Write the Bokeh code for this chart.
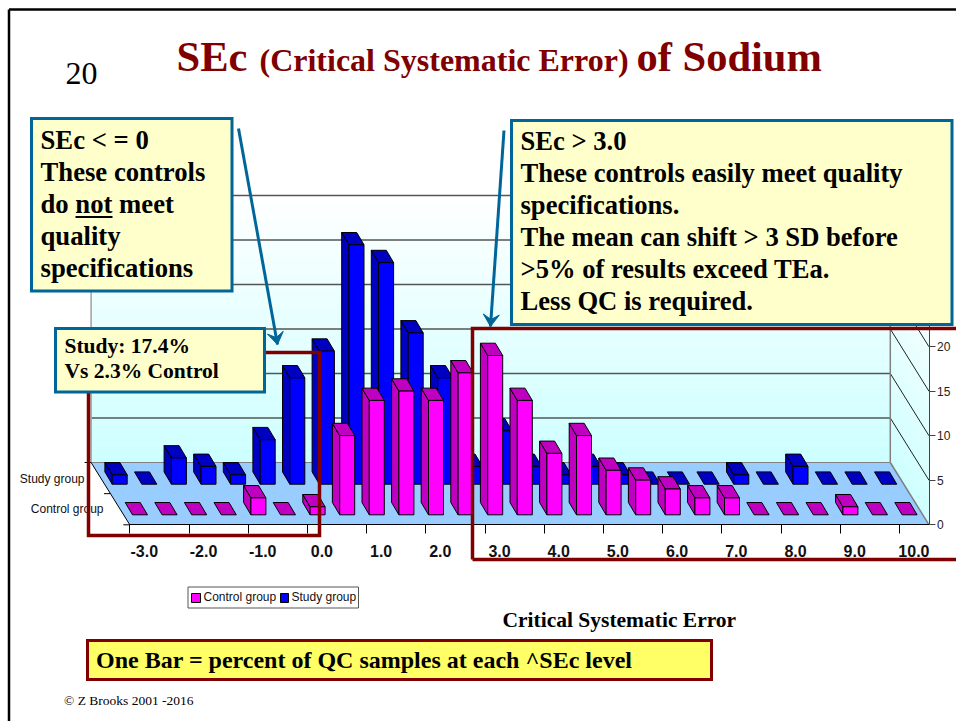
from bokeh.plotting import figure
from bokeh.embed import file_html
from bokeh.resources import INLINE
from bokeh.models import Range1d, LinearAxis, FixedTicker
from bokeh.core.properties import value
import math

sec_levels = [-3.0,-2.5,-2.0,-1.5,-1.0,-0.5,0.0,0.5,1.0,1.5,2.0,2.5,3.0,3.5,4.0,4.5,5.0,5.5,6.0,6.5,7.0,7.5,8.0,8.5,9.0,9.5,10.0]
control_group = [0,0,0,0,1.9,0,0.9,8.9,12.85,13.9,12.85,15.95,17.9,12.85,6.9,8.9,5.0,3.9,2.9,1.9,1.9,0,0,0,0.9,0,0]
study_group = [1.05,0,2.95,2.0,1.05,5.0,11.95,14.95,26.9,24.9,17.0,11.95,2.0,6.0,2.0,1.05,2.0,1.05,0,0,0,1.05,0,2.0,0,0,0]
x_tick_values = [-3,-2,-1,0,1,2,3,4,5,6,7,8,9,10]
x_tick_labels = ["-3.0","-2.0","-1.0","0.0","1.0","2.0","3.0","4.0","5.0","6.0","7.0","8.0","9.0","10.0"]
y_tick_values = [0,5,10,15,20]
wall_levels = [0,5,10,15,20,25,30]

PX_X, PX_Y = 59.2, 8.9
def X(px): return -3 + (px - 129.3) / PX_X
def Y(py): return (524.3 - py) / PX_Y
def XS(a): return [X(v) for v in a]
def YS(a): return [Y(v) for v in a]

p = figure(width=956, height=721, output_backend="svg", toolbar_location=None,
           x_range=Range1d(X(0), X(956)), y_range=Range1d(Y(721), Y(0)),
           x_axis_type=None, y_axis_type=None, min_border=0, outline_line_color=None,
           background_fill_color="white", border_fill_color="white")
p.grid.visible = False

SERIF = value("Liberation Serif")
SANS = value("Liberation Sans")
DARK_RED = "#800000"
TEAL = "#006699"
CREAM = "#ffffcc"
BASE_K = 0.35   # renderer's offset of alphabetic text, as a share of the font size

END = 10.5
DEPTH_X, DEPTH_Y = -38.7 / PX_X, 62.3 / PX_Y
WALL_TOP = 30
BAR_W = 15.0 / PX_X
BAR_DX, BAR_DY = -7.3 / PX_X, 12.3 / PX_Y
ROW_DX, ROW_DY = -20.3 / PX_X, 30.6 / PX_Y
CTRL_X0, CTRL_Y0 = 2.7 / PX_X, 10.0 / PX_Y

N = 60
def mix(t):
    c = int(round(255 - (255 - 204) * t))
    return f"#{c:02x}ffff"
bl, br, bb, bt, cols = [], [], [], [], []
wx, wy, wc = [], [], []
for i in range(N):
    v0 = WALL_TOP * i / N
    v1 = WALL_TOP * (i + 1) / N + 0.02
    col = mix(1 - (i + 0.5) / N)
    bl.append(-3 + DEPTH_X); br.append(END + DEPTH_X)
    bb.append(v0 + DEPTH_Y); bt.append(v1 + DEPTH_Y); cols.append(col)
    wx.append([END + DEPTH_X, END, END, END + DEPTH_X])
    wy.append([v0 + DEPTH_Y, v0, v1, v1 + DEPTH_Y]); wc.append(col)
p.quad(left=bl, right=br, bottom=bb, top=bt, fill_color=cols, line_color=None)
p.patches(wx, wy, fill_color=wc, line_color=None)

for v in wall_levels[1:]:
    p.line([-3 + DEPTH_X, END + DEPTH_X], [v + DEPTH_Y, v + DEPTH_Y], line_color="#555555", line_width=1.4)
    p.line([END + DEPTH_X, END], [v + DEPTH_Y, v], line_color="#222222", line_width=1)
p.line([-3 + DEPTH_X] * 2, [DEPTH_Y, WALL_TOP + DEPTH_Y], line_color="#a0a0a0", line_width=1.5)
p.line([END + DEPTH_X] * 2, [DEPTH_Y, WALL_TOP + DEPTH_Y], line_color="#808080", line_width=1.5)

p.patch([-3, END, END + DEPTH_X, -3 + DEPTH_X], [0, 0, DEPTH_Y, DEPTH_Y], fill_color="#99ccff", line_color=None)
p.line([END, END + DEPTH_X], [0, DEPTH_Y], line_color="#808080", line_width=1.5)
p.line([-3 + DEPTH_X, END + DEPTH_X], [DEPTH_Y, DEPTH_Y], line_color="#808080", line_width=1)
p.line([-3, -3 + DEPTH_X], [0, DEPTH_Y], line_color="black", line_width=1)
for k in [0, 0.5, 1]:
    xk = -3 + DEPTH_X * k
    p.line([xk - 6.5 / PX_X, xk], [DEPTH_Y * k, DEPTH_Y * k], line_color="black", line_width=1)

def bars(vals, x_off, y_base, front, side):
    xs, ys, cs = [], [], []
    for s, v in zip(sec_levels, vals):
        x0, x1 = s + x_off, s + x_off + BAR_W
        t = y_base + v
        if v > 0:
            xs.append([x0, x0, x0 + BAR_DX, x0 + BAR_DX]); ys.append([y_base, t, t + BAR_DY, y_base + BAR_DY]); cs.append(side)
        xs.append([x0, x1, x1 + BAR_DX, x0 + BAR_DX]); ys.append([t, t, t + BAR_DY, t + BAR_DY]); cs.append(side)
        if v > 0:
            xs.append([x0, x1, x1, x0]); ys.append([y_base, y_base, t, t]); cs.append(front)
    p.patches(xs, ys, fill_color=cs, line_color="black", line_width=1)

bars(study_group, CTRL_X0 + ROW_DX, CTRL_Y0 + ROW_DY, "#0000ff", "#0000c0")
bars(control_group, CTRL_X0, CTRL_Y0, "#ff00ff", "#c000c0")

ax = LinearAxis(fixed_location=0, bounds=(-3, END), ticker=FixedTicker(ticks=x_tick_values),
                major_tick_in=0, major_tick_out=9, axis_line_color="black", major_tick_line_color="black",
                major_label_overrides={t: "" for t in x_tick_values}, major_label_text_font_size="1px")
p.add_layout(ax, "below")
ay = LinearAxis(fixed_location=END, bounds=(0, 23), ticker=FixedTicker(ticks=y_tick_values),
                major_tick_in=0, major_tick_out=6, axis_line_color="#444444", major_tick_line_color="#444444",
                major_label_text_font="Liberation Sans", major_label_text_font_size="12px",
                major_label_text_color="#222222", major_label_standoff=2)
p.add_layout(ay, "right")

p.text([t + 14.5 / PX_X for t in x_tick_values], [Y(556 - BASE_K * 16)] * len(x_tick_values), text=x_tick_labels,
       text_font=SANS, text_font_style="bold", text_font_size="16px", text_align="center",
       text_baseline="alphabetic", text_color="#111111")
p.text([X(84), X(103)], [Y(478), Y(508)], text=["Study group", "Control group"], text_font=SANS,
       text_font_size="12px", text_align="right", text_baseline="middle", text_color="#111111")

def rect(x0, y0, x1, y1, fill, line, lw):
    p.quad(left=[X(x0)], right=[X(x1)], bottom=[Y(y1)], top=[Y(y0)], fill_color=fill, line_color=line,
           line_width=lw, line_join="miter", level="overlay")
def label(x, y, s, size, color="black", style="bold", font=SERIF):
    p.text([X(x)], [Y(y - BASE_K * size)], text=[s], text_font=font, text_font_style=style, text_font_size=f"{size}px",
           text_color=color, text_baseline="alphabetic", text_align="left", level="overlay")
def arrow(x0, y0, x1, y1):
    p.line([X(x0), X(x1)], [Y(y0), Y(y1)], line_color=TEAL, line_width=3, level="overlay")
    L = math.hypot(x1 - x0, y1 - y0)
    ux, uy = (x1 - x0) / L, (y1 - y0) / L
    nx, ny = -uy, ux
    pts = [(x1, y1), (x1 - 12 * ux + 8 * nx, y1 - 12 * uy + 8 * ny), (x1 - 7 * ux, y1 - 7 * uy),
           (x1 - 12 * ux - 8 * nx, y1 - 12 * uy - 8 * ny)]
    p.patch([X(a) for a, _ in pts], [Y(b) for _, b in pts], fill_color=TEAL, line_color=TEAL, level="overlay")

p.line([X(8.5), X(8.5)], [Y(721), Y(9)], line_color="black", line_width=2.5, level="overlay")
p.line([X(8.5), X(956)], [Y(9), Y(9)], line_color="black", line_width=2.5, level="overlay")

p.multi_line([XS([88, 88, 319, 319, 88]), XS([472, 472, 960]), XS([472, 960])],
             [YS([352, 535, 535, 352, 352]), YS([559, 328, 328]), YS([559, 559])],
             line_color=DARK_RED, line_width=3.5, line_join="miter", level="overlay")

arrow(238, 128, 277, 344)
arrow(503.5, 130, 490, 326)

rect(31, 118, 231.5, 290.5, CREAM, TEAL, 3)
for yy, s in zip([149, 181, 213, 245, 277], ["SEc < = 0", "These controls", "do not meet", "quality", "specifications"]):
    label(40, yy, s, 26.7)
p.line([X(75), X(112)], [Y(216.5), Y(216.5)], line_color="black", line_width=2, level="overlay")

rect(511, 120, 951.5, 324, CREAM, TEAL, 3)
for yy, s in zip([150, 182, 214, 246, 278, 310], ["SEc > 3.0", "These controls easily meet quality", "specifications.",
                                                  "The mean can shift > 3 SD before", ">5% of results exceed TEa.", "Less QC is required."]):
    label(520, yy, s, 26.6)

rect(55, 328, 264, 391.5, CREAM, TEAL, 3)
label(64, 353, "Study: 17.4%", 21.5)
label(64, 378.5, "Vs 2.3% Control", 21.5)

rect(87, 640, 711, 679, "#ffff66", DARK_RED, 3)
label(95.5, 668, "One Bar = percent of QC samples at each ^SEc level", 24)

label(65, 84, "20", 32, style="normal")
label(176, 71, "SEc", 42.5, DARK_RED)
label(259, 71, "(Critical Systematic Error)", 32, DARK_RED)
label(636, 71, "of Sodium", 42.5, DARK_RED)

label(502, 627, "Critical Systematic Error", 21.5)
label(63.5, 705, "\u00a9 Z Brooks 2001 -2016", 13.5, style="normal")

rect(187.5, 586.5, 358, 607.5, "white", "#555555", 1)
rect(191, 593, 200, 602, "#ff00ff", "black", 1)
rect(280, 593, 288, 602, "#0000ff", "black", 1)
label(203, 601, "Control group", 12, "#111111", "normal", SANS)
label(291, 601, "Study group", 12, "#111111", "normal", SANS)

open("out.html", "w").write(file_html(p, INLINE))
